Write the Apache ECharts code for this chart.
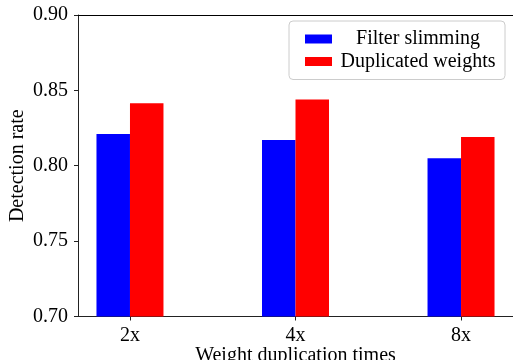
<!DOCTYPE html>
<html>
<head>
<meta charset="utf-8">
<script src="https://cdn.jsdelivr.net/npm/echarts@6/dist/echarts.min.js"></script>
<style>
  html, body { margin: 0; padding: 0; background: #fff; }
  #chart { width: 513px; height: 360px; }
</style>
</head>
<body>
<div id="chart"></div>
<script>
const categories = ["2x", "4x", "8x"];
const filterSlimming = [0.821, 0.817, 0.805];
const duplicatedWeights = [0.8415, 0.844, 0.819];

const font = "Liberation Serif";
const xMin = -0.314;
const xMax = 2.314;

const chart = echarts.init(document.getElementById("chart"));

chart.setOption({
  animation: false,
  textStyle: { fontFamily: font, color: "#000" },
  grid: { left: 78, right: 0, top: 15, bottom: 43.5, outerBoundsMode: "none", containLabel: false },
  legend: {
    orient: "vertical",
    left: 289,
    top: 21,
    padding: [8, 8, 8, 16],
    itemWidth: 27,
    itemHeight: 9,
    itemGap: 2.5,
    icon: "rect",
    borderColor: "#cccccc",
    borderWidth: 1,
    borderRadius: 4,
    backgroundColor: "#fff",
    formatter: (name) => "{a|" + name + "}",
    textStyle: {
      fontFamily: font,
      fontSize: 20,
      color: "#000",
      padding: [0, 0, 0, 2],
      rich: { a: { width: 158, align: "center", fontSize: 20, fontFamily: font, lineHeight: 20 } },
    },
    data: ["Filter slimming", "Duplicated weights"],
  },
  xAxis: [
    {
      type: "value",
      min: xMin,
      max: xMax,
      name: "Weight duplication times",
      nameLocation: "middle",
      nameGap: 29,
      nameMoveOverlap: false,
      nameTextStyle: { fontFamily: font, fontSize: 20, color: "#000" },
      splitLine: { show: false },
      axisLine: { onZero: false, lineStyle: { color: "#222", width: 1 } },
      axisTick: {
        length: 4,
        customValues: categories.map((c, i) => i),
        lineStyle: { color: "#222" },
      },
      axisLabel: {
        margin: 9,
        fontFamily: font,
        fontSize: 20,
        color: "#000",
        customValues: categories.map((c, i) => i),
        formatter: (v) => categories[Math.round(v)] || "",
      },
    },
    {
      type: "value",
      position: "top",
      min: xMin,
      max: xMax,
      splitLine: { show: false },
      axisLine: { show: true, onZero: false, lineStyle: { color: "#000", width: 1 } },
      axisTick: { show: false },
      axisLabel: { show: false },
    },
  ],
  yAxis: {
    type: "value",
    min: 0.7,
    max: 0.9,
    interval: 0.05,
    name: "Detection rate",
    nameLocation: "middle",
    nameGap: 50,
    nameMoveOverlap: false,
    nameTextStyle: { fontFamily: font, fontSize: 20, color: "#000" },
    splitLine: { show: false },
    axisLine: { show: true, onZero: false, lineStyle: { color: "#222", width: 1 } },
    axisTick: { show: true, length: 4, lineStyle: { color: "#222" } },
    axisLabel: {
      margin: 10,
      fontFamily: font,
      fontSize: 20,
      color: "#000",
      formatter: (v) => v.toFixed(2),
    },
  },
  series: [
    {
      name: "Filter slimming",
      type: "bar",
      barWidth: 33.5,
      barGap: "0%",
      itemStyle: { color: "#0000ff" },
      data: filterSlimming.map((v, i) => [i, v]),
    },
    {
      name: "Duplicated weights",
      type: "bar",
      barWidth: 33.5,
      barGap: "0%",
      itemStyle: { color: "#ff0000" },
      data: duplicatedWeights.map((v, i) => [i, v]),
    },
  ],
});
</script>
</body>
</html>
